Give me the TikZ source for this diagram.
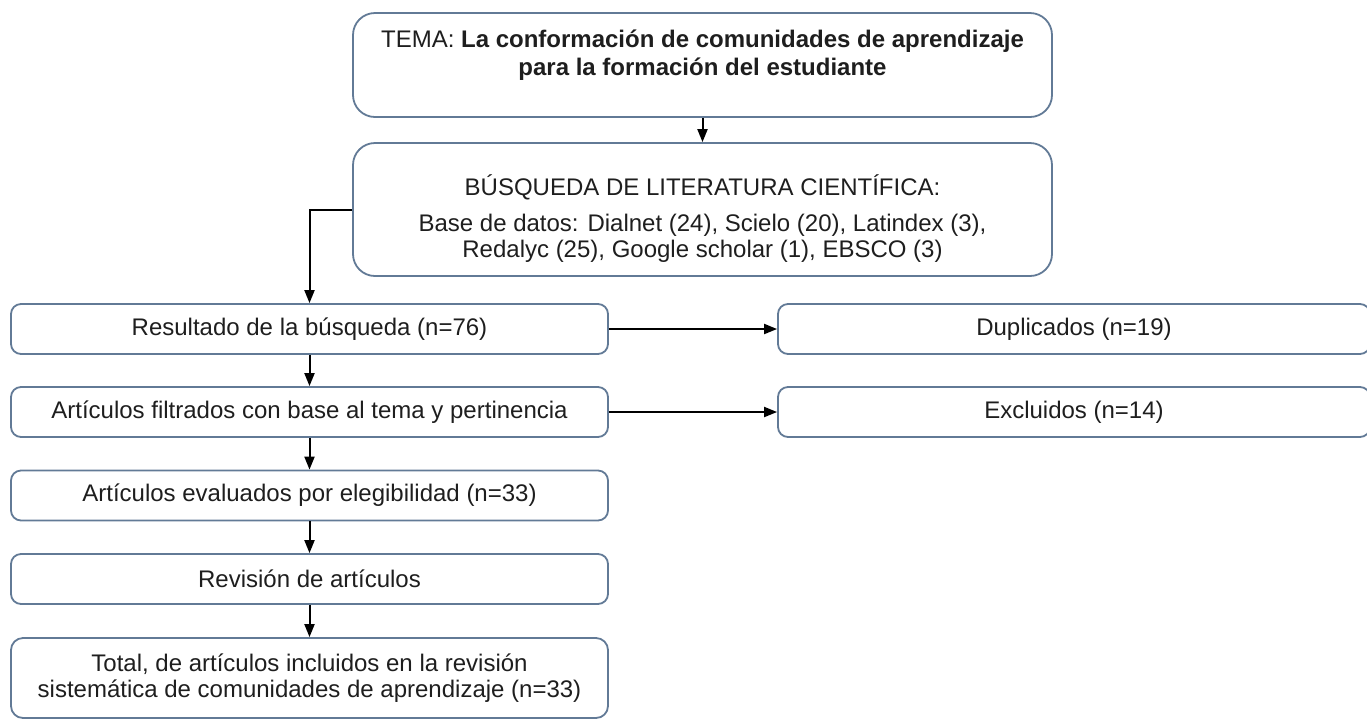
\documentclass[tikz,border=0pt]{standalone}
\usepackage{fontspec}
\setmainfont{Liberation Sans}
\usetikzlibrary{arrows.meta}
\definecolor{borde}{RGB}{98,122,150}
\definecolor{texto}{RGB}{30,30,30}

\begin{document}
\begin{tikzpicture}[x=0.5pt,y=-0.5pt,
    caja/.style={draw=borde,line width=0.9pt,rounded corners=5pt,text=texto,align=center,inner sep=0pt,
      font=\fontsize{12}{13}\selectfont},
    cajagrande/.style={caja,rounded corners=11pt,minimum width=349.5pt},
    cajaizq/.style={caja,minimum width=298.5pt,minimum height=25pt},
    cajader/.style={caja,minimum width=296pt,minimum height=25pt},
    flecha/.style={line width=1pt,-{Triangle[length=6.5pt,width=5pt]}}]
    \clip (0,0) rectangle (1367,720);
    \node[cajagrande,minimum height=52pt,font=\fontsize{12}{14}\selectfont] (tema) at (702.5,65) {TEMA: \textbf{La conformación de comunidades de aprendizaje}\\ \textbf{para la formación del estudiante}\\[-2pt]\mbox{}};
    \node[cajagrande,minimum height=66.5pt] (busqueda) at (702.5,209.5) {\rule{0pt}{19pt}BÚSQUEDA DE LITERATURA CIENTÍFICA:\\[5pt] Base de datos: Dialnet (24), Scielo (20), Latindex (3),\\ Redalyc (25), Google scholar (1), EBSCO (3)};
    \node[cajaizq] (resultado) at (309.5,329) {Resultado de la búsqueda (n=76)};
    \node[cajaizq] (filtrados) at (309.5,412) {Artículos filtrados con base al tema y pertinencia};
    \node[cajaizq] (evaluados) at (309.5,495.5) {Artículos evaluados por elegibilidad (n=33)};
    \node[cajaizq] (revision) at (309.5,579) {Revisión de artículos};
    \node[cajaizq,minimum height=40pt,rounded corners=6pt] (total) at (309.5,678) {Total, de artículos incluidos en la revisión\\ sistemática de comunidades de aprendizaje (n=33)};
    \node[cajader] (duplicados) at (1074,329) {Duplicados (n=19)};
    \node[cajader] (excluidos) at (1074,412) {Excluidos (n=14)};
    \draw[flecha] (tema) -- (busqueda);
    \draw[flecha] (busqueda.west) -- (busqueda.west -| resultado) -- (resultado);
    \draw[flecha] (resultado) -- (duplicados);
    \draw[flecha] (filtrados) -- (excluidos);
    \foreach \a/\b in {resultado/filtrados,filtrados/evaluados,evaluados/revision,revision/total}
        \draw[flecha] (\a) -- (\b);
\end{tikzpicture}
\end{document}
